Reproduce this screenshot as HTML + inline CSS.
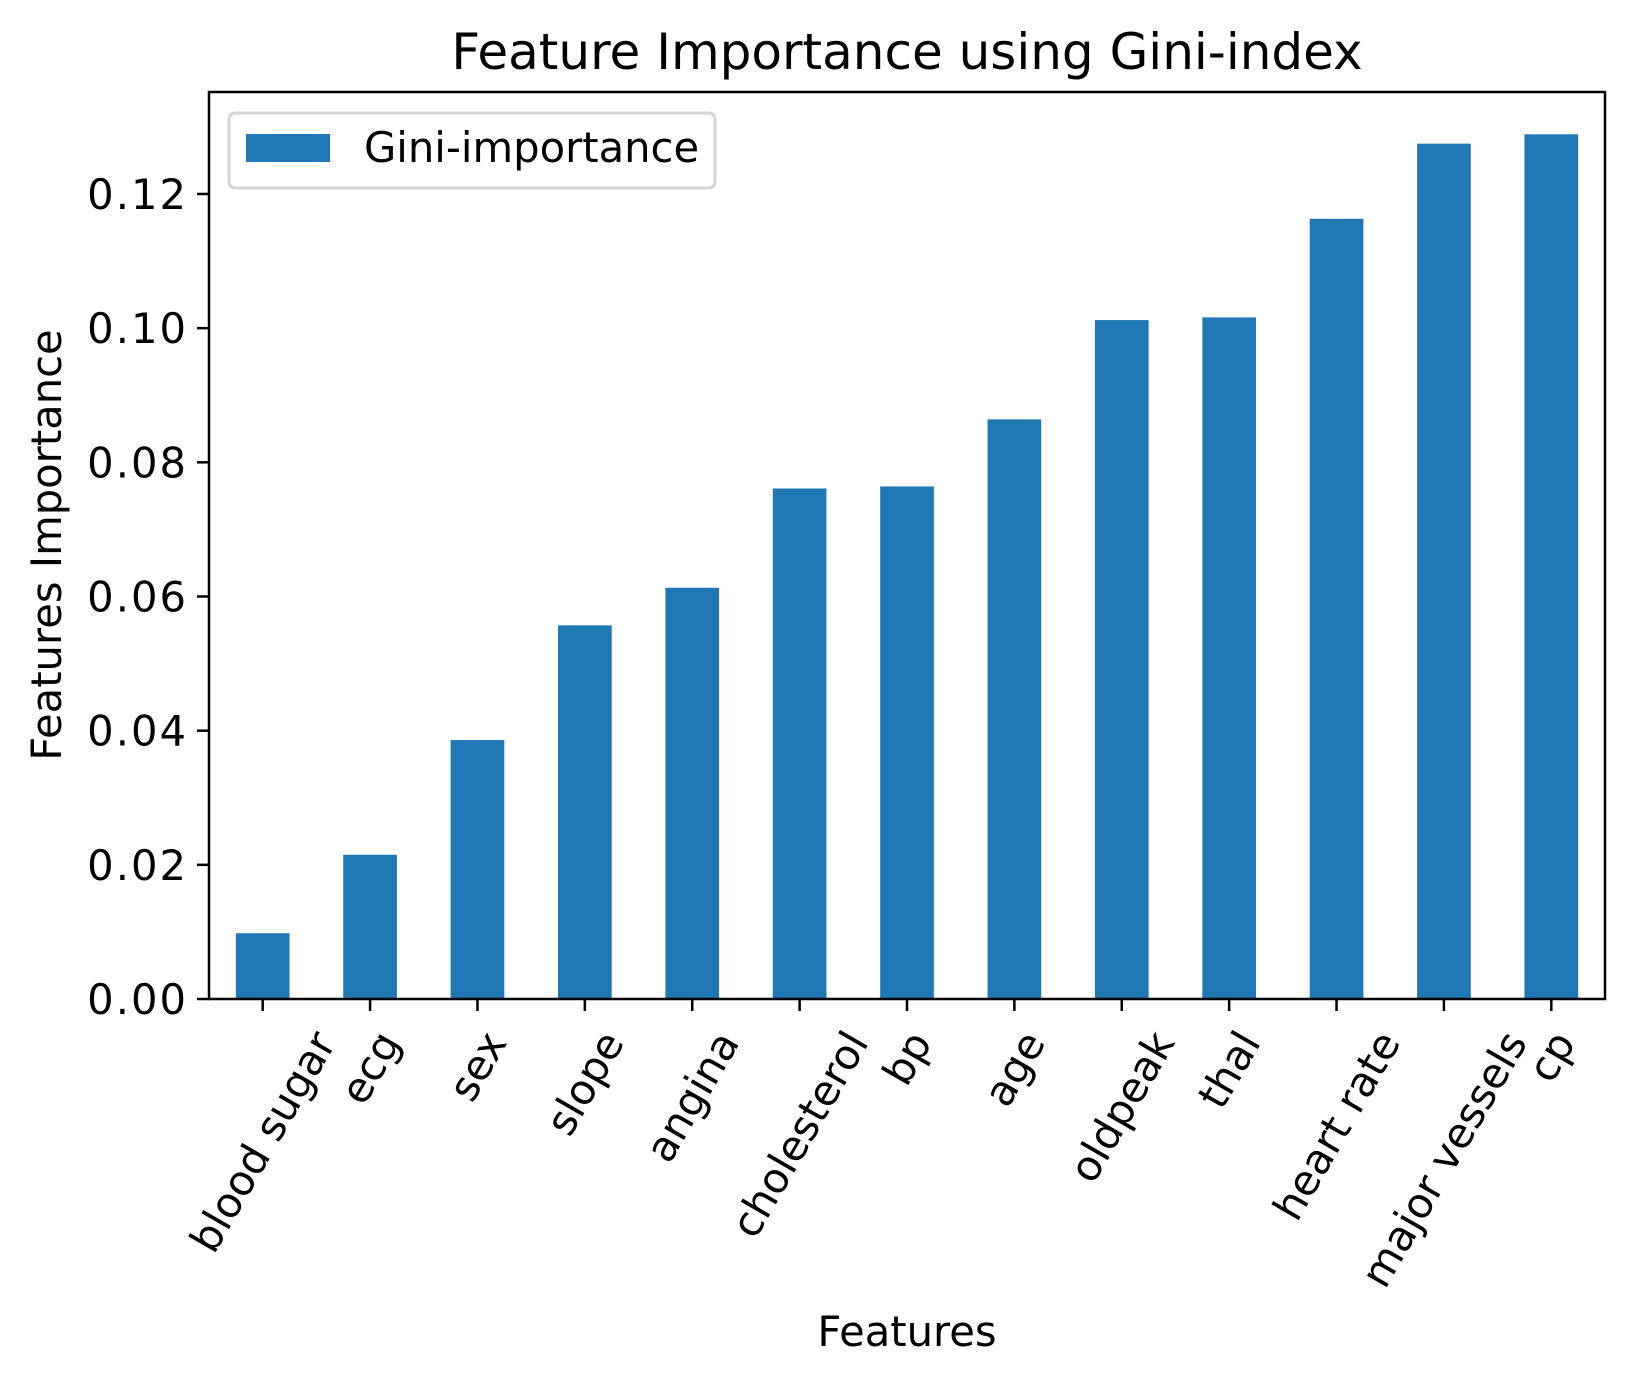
<!DOCTYPE html>
<html><head><meta charset="utf-8"><style>
html,body{margin:0;padding:0;background:#fff;}
svg{display:block;font-family:"DejaVu Sans","Liberation Sans",sans-serif;}
</style></head><body>
<svg id="chart" width="1633" height="1382" viewBox="0 0 1633 1382" xmlns="http://www.w3.org/2000/svg">
<rect width="1633" height="1382" fill="#fff"/>
<text x="907" y="69" font-size="50" text-anchor="middle">Feature Importance using Gini-index</text>
<g id="bars"></g>
<g id="yticks"></g>
<g id="xticks"></g>
<rect x="209" y="92" width="1396" height="907" fill="none" stroke="#000" stroke-width="2.5"/>
<text transform="translate(61,545) rotate(-90)" font-size="41.7" text-anchor="middle">Features Importance</text>
<text x="907" y="1346" font-size="41.7" text-anchor="middle">Features</text>
<g>
<rect x="229" y="113" width="486" height="75" rx="6" fill="#fff" fill-opacity="0.8" stroke="#d5d5d5" stroke-width="3"/>
<rect x="246" y="134" width="84" height="28" fill="#1f77b4"/>
<text x="364" y="162" font-size="41.7">Gini-importance</text>
</g>
</svg>
<script>
const categories = ["blood sugar","ecg","sex","slope","angina","cholesterol","bp","age","oldpeak","thal","heart rate","major vessels","cp"];
const giniValues = [0.0098,0.0215,0.0386,0.0557,0.0613,0.0761,0.0764,0.0864,0.1012,0.1016,0.1163,0.1275,0.1289];
const yTickValues = [0,0.02,0.04,0.06,0.08,0.10,0.12];
const yTickLabels = ["0.00","0.02","0.04","0.06","0.08","0.10","0.12"];

const NS="http://www.w3.org/2000/svg";
const L=209,R=1605,T=92,B=999,YMAX=0.1352;
const step=(R-L)/categories.length;
const x=i=>L+(i+0.5)*step;
const y=v=>B-(v/YMAX)*(B-T);
const bars=document.getElementById('bars');
const yt=document.getElementById('yticks');
const xt=document.getElementById('xticks');
function mk(tag,attrs,parent){const e=document.createElementNS(NS,tag);for(const k in attrs)e.setAttribute(k,attrs[k]);parent.appendChild(e);return e;}

giniValues.forEach((v,i)=>{
  const r=mk('rect',{x:x(i)-step/4,y:y(v),width:step/2,height:B-y(v),fill:'#1f77b4'},bars);
  
  
});
yTickValues.forEach((v,i)=>{
  const l=mk('line',{x1:L-12,x2:L,y1:y(v),y2:y(v),stroke:'#000','stroke-width':2.5},yt);
  
  
  const t=mk('text',{x:L-21,y:y(v)+15,'font-size':41.7,'text-anchor':'end','letter-spacing':'2'},yt);
  t.textContent=yTickLabels[i];
  
  
});
const c60=Math.cos(Math.PI/3),s60=Math.sin(Math.PI/3),fh=41.7*1.16;
categories.forEach((c,i)=>{
  const l=mk('line',{x1:x(i),x2:x(i),y1:B,y2:B+12,stroke:'#000','stroke-width':2.5},xt);
  
  
  const t=mk('text',{'font-size':41.7,'text-anchor':'middle','dominant-baseline':'central'},xt);
  t.textContent=c;
  
  
  const w=t.getComputedTextLength();
  const bh=w*s60+fh*c60;
  const cy=B+12+12+bh/2;
  t.setAttribute('transform','translate('+x(i)+','+cy+') rotate(-60)');
});
</script>
</body></html>
